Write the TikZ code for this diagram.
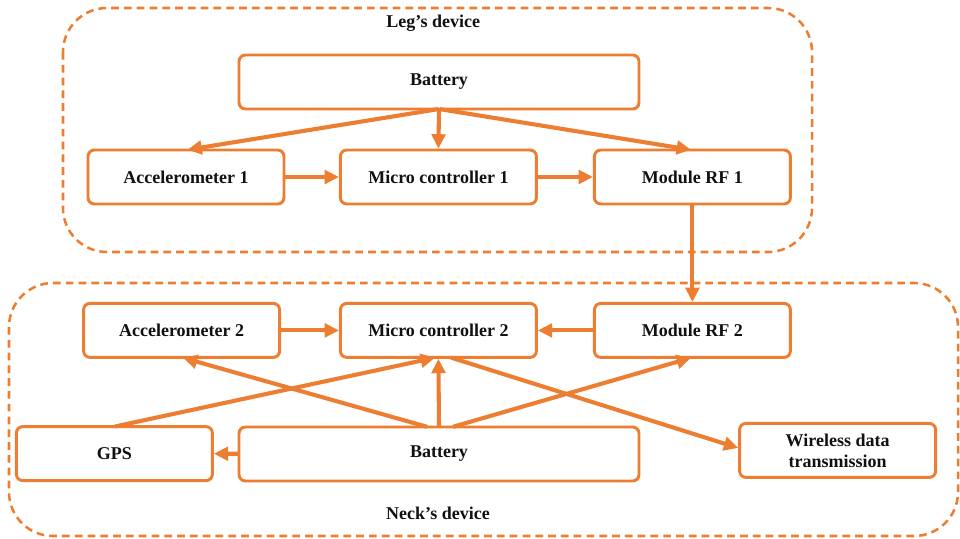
\documentclass[tikz,border=0pt]{standalone}
\usepackage{fontspec}
\setmainfont{Liberation Serif}
\usetikzlibrary{arrows.meta}
\definecolor{devorange}{HTML}{ED7D31}
\definecolor{devfg}{HTML}{111111}

\begin{document}
\begin{tikzpicture}[x=1cm,y=1cm,font=\fontsize{12.8}{15}\selectfont\bfseries]
  \tikzstyle{frame}=[draw=devorange, line width=1.8pt, dash pattern=on 5.5pt off 3.6pt, rounded corners=1.1cm]
  \tikzstyle{title}=[text=devfg, align=center]
  \tikzstyle{block}=[draw=devorange, line width=2.1pt, rounded corners=1.6mm, fill=white, text=devfg, align=center, minimum width=4.9cm, minimum height=1.35cm, outer sep=0pt]
  \tikzstyle{wideblock}=[block, minimum width=10cm]
  \tikzstyle{arrow}=[-{Triangle[length=0.36cm,width=0.34cm]}, line width=2.9pt, draw=devorange, shorten <=0.5pt, shorten >=1pt]

  \path[use as bounding box] (0,0) rectangle (24,-13.45);

  % device outlines
  \draw[frame] (1.575,-0.2) rectangle (20.3,-6.3);
  \draw[frame] (0.225,-7.075) rectangle (23.95,-13.4);
  \node[title] (legtitle) at (10.83,-0.575) {Leg’s device};
  \node[title] (necktitle) at (10.95,-12.83) {Neck’s device};

  % leg unit
  \node[wideblock] (bat1) at (10.975,-2.05) {Battery};
  \node[block] (acc1) at (4.65,-4.425) {Accelerometer 1};
  \node[block] (mc1) at (10.96,-4.425) {Micro controller 1};
  \node[block] (rf1) at (17.31,-4.425) {Module RF 1};

  % neck unit
  \node[block] (acc2) at (4.54,-8.26) {Accelerometer 2};
  \node[block] (mc2) at (10.96,-8.26) {Micro controller 2};
  \node[block] (rf2) at (17.31,-8.26) {Module RF 2};
  \node[block] (gps) at (2.86,-11.34) {GPS};
  \node[wideblock] (bat2) at (10.975,-11.35) {Battery};
  \node[block] (wdt) at (20.94,-11.26) {Wireless data\\transmission};

  \foreach \dst in {acc1,mc1,rf1}
    \draw[arrow] (bat1.south) -- (\dst.north);
  \draw[arrow] (acc1) -- (mc1);
  \draw[arrow] (mc1) -- (rf1);
  \draw[arrow] (rf1) -- (rf2);

  \draw[arrow] (acc2) -- (mc2);
  \draw[arrow] (rf2) -- (mc2);
  \draw[arrow] ([xshift=-0.28cm]bat2.north) -- (acc2.south);
  \draw[arrow] (bat2.north) -- (mc2.south);
  \draw[arrow] ([xshift=0.33cm]bat2.north) -- (rf2.south);
  \draw[arrow] (gps.north) -- ([xshift=-0.05cm]mc2.south);
  \draw[arrow] ([xshift=0.3cm]mc2.south) -- ([yshift=0.05cm]wdt.west);
  \draw[arrow] (bat2) -- (gps);
\end{tikzpicture}
\end{document}
